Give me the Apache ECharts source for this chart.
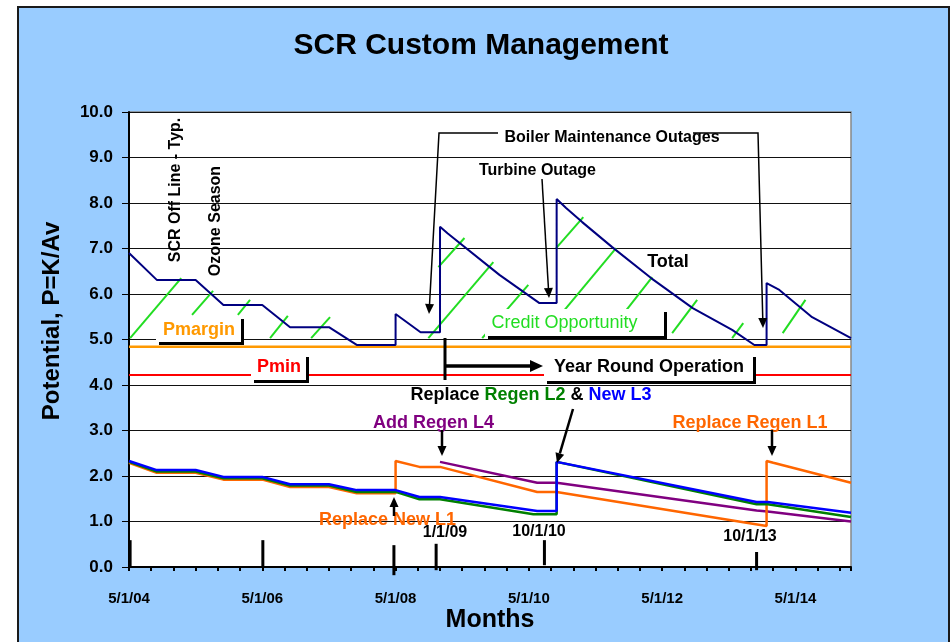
<!DOCTYPE html>
<html>
<head>
<meta charset="utf-8">
<script src="https://cdn.jsdelivr.net/npm/echarts@6/dist/echarts.min.js"></script>
<style>
html,body{margin:0;padding:0;background:#fff;}
#c{width:950px;height:642px;}
</style>
</head>
<body>
<div id="c"></div>
<script>
// ---------- DATA (months since 5/1/04, potential P=K/Av) ----------
const tickMonths = [0, 24, 48, 72, 96, 120];
const tickLabels = ['5/1/04', '5/1/06', '5/1/08', '5/1/10', '5/1/12', '5/1/14'];

const totalMonths = [0,5,12,17,24,29,36,41,48,48,52.5,56,56,57.4,66.7,73.9,77,77,78.7,81.6,87,94,101.5,108.6,112.6,114.8,114.8,117.1,123,130];
const totalValues = [6.90,6.31,6.31,5.76,5.76,5.27,5.27,4.88,4.88,5.56,5.16,5.16,7.48,7.33,6.42,5.80,5.80,8.09,7.89,7.58,7.03,6.35,5.69,5.21,4.88,4.88,6.24,6.09,5.49,5.03];

const blueMonths = [0,5,12,17,24,29,36,41,48,52.3,56,73.5,77,77,113,115,130];
const blueValues = [2.33,2.13,2.13,1.98,1.98,1.82,1.82,1.69,1.69,1.54,1.54,1.23,1.23,2.31,1.43,1.43,1.19];

const greenMonths = [0,5,12,17,24,29,36,41,48,52.3,56,72.8,77,77,113,115,130];
const greenValues = [2.31,2.10,2.10,1.95,1.95,1.79,1.79,1.65,1.65,1.49,1.49,1.16,1.16,2.31,1.38,1.38,1.10];

const orangeMonths = [0,5,12,17,24,29,36,41,48,48,52.3,56,73.5,77,114.8,114.8,116,130];
const orangeValues = [2.29,2.07,2.07,1.92,1.92,1.76,1.76,1.62,1.62,2.33,2.20,2.20,1.65,1.65,0.90,2.33,2.29,1.85];

const purpleMonths = [56,73.5,77,113,115,130];
const purpleValues = [2.31,1.85,1.85,1.24,1.22,1.00];

const pmarginLevel = 4.84;
const pminLevel = 4.22;
const lineSpan = [0, 130];

// credit-opportunity hatch segments: [month, value] start / end
const hatchFrom = [[0.2,5.03],[11.35,5.54],[19.6,5.54],[25.4,5.03],[32.8,5.03],[53.9,5.03],[55.7,6.59],[63.6,5.03],[76.9,7.01],[74.2,5.03],[85.6,5.03],[97.8,5.14],[108.6,5.03],[117.7,5.14]];
const hatchTo   = [[9.4,6.35],[15.14,6.07],[21.8,5.87],[28.6,5.52],[36.2,5.49],[65.6,6.70],[60.4,7.23],[71.9,6.20],[81.8,7.69],[87.7,7.01],[94.2,6.37],[102.3,5.87],[110.6,5.36],[121.8,5.87]];

// vertical date marker bars
const markerMonths = [0.2, 24.1, 47.7, 55.3, 74.8, 113];
const markerTop    = [0.59, 0.59, 0.48, 0.51, 0.59, 0.33];
const markerBottom = [0, 0, -0.18, -0.07, 0.04, -0.07];

// ---------- CHART ----------
const F = '"Liberation Sans", Arial, sans-serif';
const zip = (xs, ys) => xs.map((x, i) => [x, ys[i]]);
const labelMap = {};
tickMonths.forEach((m, i) => labelMap[m] = tickLabels[i]);

function lineSeries(name, xs, ys, color, width) {
  return {
    name, type: 'line', data: zip(xs, ys), symbol: 'none',
    lineStyle: { color, width }, z: 3
  };
}

function txt(x, y, text, size, color, bold, rot) {
  const el = {
    type: 'text', x, y, z: 60,
    style: {
      text, x: 0, y: 0, fill: color,
      font: (bold ? 'bold ' : '') + size + 'px ' + F,
      textAlign: 'center', textVerticalAlign: 'middle'
    }
  };
  if (rot) el.rotation = rot;
  return el;
}

function box(x1, y1, x2, y2) {
  return [
    { type: 'rect', z: 55, shape: { x: x1 + 3, y: y1 + 3, width: x2 - x1, height: y2 - y1 }, style: { fill: '#000' } },
    { type: 'rect', z: 56, shape: { x: x1, y: y1, width: x2 - x1, height: y2 - y1 }, style: { fill: '#fff' } }
  ];
}

function arrow(pts, w, headLen, headW) {
  const n = pts.length;
  const [x1, y1] = pts[n - 2], [x2, y2] = pts[n - 1];
  const a = Math.atan2(y2 - y1, x2 - x1);
  const L = headLen || 10, W = headW || 4.5;
  const bx = x2 - L * Math.cos(a), by = y2 - L * Math.sin(a);
  const tri = [[x2, y2], [bx + W * Math.sin(a), by - W * Math.cos(a)], [bx - W * Math.sin(a), by + W * Math.cos(a)]];
  const lp = pts.slice(0, n - 1).concat([[bx, by]]);
  return [
    { type: 'polyline', z: 60, shape: { points: lp }, style: { stroke: '#000', lineWidth: w, fill: null } },
    { type: 'polygon', z: 60, shape: { points: tri }, style: { fill: '#000' } }
  ];
}

const graphics = [
  { type: 'rect', z: -10, shape: { x: 18, y: 7, width: 931, height: 650 }, style: { fill: '#99CCFF', stroke: '#1a1a1a', lineWidth: 2 } },
  txt(481, 46, 'SCR Custom Management', 30, '#000', true),
  txt(52, 321, 'Potential, P=K/Av', 24, '#000', true, Math.PI / 2),
  txt(490, 620, 'Months', 25, '#000', true),
  txt(175.5, 190, 'SCR Off Line - Typ.', 16, '#000', true, Math.PI / 2),
  txt(215.5, 221, 'Ozone Season', 16, '#000', true, Math.PI / 2),
  txt(612, 138, 'Boiler Maintenance Outages', 16, '#000', true),
  txt(537.5, 171, 'Turbine Outage', 16, '#000', true),
  txt(668, 262, 'Total', 18, '#000', true),
  ...box(156, 316, 241, 342), txt(199, 330, 'Pmargin', 18, '#FF9900', true),
  ...box(251, 354, 306, 380), txt(279, 367, 'Pmin', 18, '#FF0000', true),
  ...box(485, 309, 664, 336), txt(564.5, 323, 'Credit Opportunity', 18, '#22DD22', false),
  ...box(544, 354, 753, 381), txt(649, 367, 'Year Round Operation', 18, '#000', true),
  {
    type: 'text', x: 531, y: 395, z: 60,
    style: {
      text: '{k|Replace }{g|Regen L2}{k| & }{b|New L3}', x: 0, y: 0,
      font: 'bold 18px ' + F, textAlign: 'center', textVerticalAlign: 'middle',
      rich: {
        k: { fill: '#000', font: 'bold 18px ' + F },
        g: { fill: '#008000', font: 'bold 18px ' + F },
        b: { fill: '#0000FF', font: 'bold 18px ' + F }
      }
    }
  },
  txt(433.5, 423, 'Add Regen L4', 18, '#800080', true),
  txt(750, 423, 'Replace Regen L1', 18, '#FF6600', true),
  txt(387.5, 520, 'Replace New L1', 18, '#FF6600', true),
  txt(445, 533, '1/1/09', 16, '#000', true),
  txt(539, 532, '10/1/10', 16, '#000', true),
  txt(750, 537, '10/1/13', 16, '#000', true),
  ...arrow([[498, 133], [439, 133], [429, 314]], 1.5),
  ...arrow([[693, 133], [758, 133], [763, 328]], 1.5),
  ...arrow([[542, 179], [549, 298]], 1.5),
  ...arrow([[573, 409], [557, 463]], 2.5),
  ...arrow([[442, 430], [442, 456]], 2.5),
  ...arrow([[772, 430], [772, 456]], 2.5),
  ...arrow([[394, 516], [394, 497]], 2.5),
  { type: 'line', z: 60, shape: { x1: 445, y1: 338, x2: 445, y2: 380 }, style: { stroke: '#000', lineWidth: 3 } },
  ...arrow([[445, 366], [543, 366]], 3.5, 13, 6)
];

const chart = echarts.init(document.getElementById('c'));
chart.setOption({
  animation: false,
  backgroundColor: '#ffffff',
  grid: { left: 129, right: 99, top: 112, bottom: 75, show: true, backgroundColor: '#ffffff', borderColor: '#888888', borderWidth: 1.5 },
  xAxis: {
    type: 'value', min: 0, max: 130, interval: 24,
    axisLine: { show: true, onZero: false, lineStyle: { color: '#000', width: 2 } },
    axisTick: { show: true, length: 4, lineStyle: { color: '#000', width: 2 } },
    minorTick: { show: true, splitNumber: 6, length: 4, lineStyle: { color: '#000', width: 2 } },
    splitLine: { show: false },
    axisLabel: {
      margin: 24, color: '#000', fontFamily: F, fontWeight: 'bold', fontSize: 15,
      showMaxLabel: false,
      formatter: v => (labelMap[v] !== undefined ? labelMap[v] : '')
    }
  },
  yAxis: {
    type: 'value', min: 0, max: 10, interval: 1,
    axisLine: { show: true, lineStyle: { color: '#000', width: 2 } },
    axisTick: { show: true, length: 7, lineStyle: { color: '#000', width: 1 } },
    splitLine: { show: true, lineStyle: { color: '#111', width: 1 } },
    axisLabel: { margin: 16, color: '#000', fontFamily: F, fontWeight: 'bold', fontSize: 17, formatter: v => v.toFixed(1) }
  },
  graphic: graphics,
  series: [
    {
      name: 'hatch', type: 'custom', z: 2,
      data: hatchFrom.map((f, i) => [f[0], f[1], hatchTo[i][0], hatchTo[i][1]]),
      encode: { x: [0, 2], y: [1, 3] },
      renderItem: (params, api) => {
        const p0 = api.coord([api.value(0), api.value(1)]);
        const p1 = api.coord([api.value(2), api.value(3)]);
        return { type: 'line', shape: { x1: p0[0], y1: p0[1], x2: p1[0], y2: p1[1] }, style: { stroke: '#22DD22', lineWidth: 2 } };
      }
    },
    {
      name: 'markers', type: 'custom', z: 4, clip: false,
      data: markerMonths.map((m, i) => [m, markerTop[i], markerBottom[i]]),
      encode: { x: 0, y: [1, 2] },
      renderItem: (params, api) => {
        const p0 = api.coord([api.value(0), api.value(1)]);
        const p1 = api.coord([api.value(0), api.value(2)]);
        return { type: 'line', shape: { x1: p0[0], y1: p0[1], x2: p1[0], y2: p1[1] }, style: { stroke: '#000', lineWidth: 3 } };
      }
    },
    lineSeries('Pmargin', lineSpan, [pmarginLevel, pmarginLevel], '#FF9900', 2.5),
    lineSeries('Pmin', lineSpan, [pminLevel, pminLevel], '#FF0000', 2),
    lineSeries('Total', totalMonths, totalValues, '#000080', 2),
    lineSeries('Regen L4', purpleMonths, purpleValues, '#800080', 2.5),
    lineSeries('L1', orangeMonths, orangeValues, '#FF6600', 2.5),
    lineSeries('Regen L2', greenMonths, greenValues, '#008000', 2.5),
    lineSeries('New L3', blueMonths, blueValues, '#0000FF', 2.5)
  ]
});
</script>
</body>
</html>
